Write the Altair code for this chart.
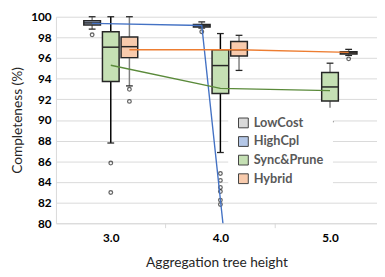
import altair as alt
import pandas as pd

# ---------------- data ----------------
series_names = ["LowCost", "HighCpl", "Sync&Prune", "Hybrid"]
tree_heights = [3.0, 4.0, 5.0]

box_series = ["HighCpl", "HighCpl", "Sync&Prune", "Sync&Prune", "Sync&Prune", "Hybrid", "Hybrid", "Hybrid"]
box_height = [3.0, 4.0, 3.0, 4.0, 5.0, 3.0, 4.0, 5.0]
whisker_low = [98.8, 98.9, 87.77, 86.85, 89.83, 93.3, 94.8, 96.25]
q1 = [99.2, 99.0, 93.73, 92.56, 91.83, 96.04, 96.19, 96.38]
median = [99.4, 99.12, 97.05, 95.27, 93.2, 97.1, 96.8, 96.5]
q3 = [99.6, 99.26, 98.55, 96.8, 94.6, 98.03, 97.6, 96.6]
whisker_high = [100.0, 99.5, 100.0, 98.37, 95.5, 100.0, 98.2, 96.84]

outlier_series = ["HighCpl", "HighCpl", "Sync&Prune", "Sync&Prune",
                  "Sync&Prune", "Sync&Prune", "Sync&Prune", "Sync&Prune", "Sync&Prune", "Sync&Prune",
                  "Sync&Prune", "Hybrid", "Hybrid", "Hybrid"]
outlier_height = [3.0, 4.0, 3.0, 3.0,
                  4.0, 4.0, 4.0, 4.0, 4.0, 4.0,
                  5.0, 3.0, 3.0, 5.0]
outlier_value = [98.25, 98.55, 85.83, 82.98,
                 84.82, 84.15, 83.47, 83.07, 82.24, 81.82,
                 83.62, 92.97, 91.8, 95.92]

mean_series = ["HighCpl"] * 3 + ["Sync&Prune"] * 3 + ["Hybrid"] * 3
mean_height = [3.0, 4.0, 5.0] * 3
mean_value = [99.35, 99.15, 0.0, 95.3, 93.06, 92.84, 96.8, 96.8, 96.55]

band_edges = [3.5, 4.5]

# ---------------- styling ----------------
fill_colors = ["#d9d9d9", "#b4c7e7", "#c5e0b4", "#f8cbad"]
line_series = ["HighCpl", "Sync&Prune", "Hybrid"]
line_colors = ["#4472c4", "#5a8a3a", "#ed7d31"]
FONT = "Lato"
BOX_HALF = 0.076
CAP_HALF = 0.031
PLOT_W = 328
PLOT_H = 211

offset_expr = ("datum.series=='HighCpl' ? -0.17 : datum.series=='Hybrid' ? 0.17 : "
               "datum.series=='LowCost' ? -0.34 : 0")

boxes = pd.DataFrame({
    "series": box_series, "height": box_height, "lo": whisker_low,
    "q1": q1, "med": median, "q3": q3, "hi": whisker_high,
})
outliers = pd.DataFrame({"series": outlier_series, "height": outlier_height, "value": outlier_value})
means = pd.DataFrame({"series": mean_series, "height": mean_height, "value": mean_value})
edges = pd.DataFrame({"edge": band_edges})

xscale = alt.Scale(domain=[2.5, 5.4286], nice=False, zero=False)
xaxis = alt.Axis(values=tree_heights, format=".1f", grid=False, ticks=False,
                 labelPadding=10, titlePadding=12, domainColor="#d9d9d9")
yscale = alt.Scale(domain=[80, 100], nice=False, zero=False)
yaxis = alt.Axis(values=list(range(80, 101, 2)), ticks=False, labelPadding=5,
                 titlePadding=6, gridColor="#d9d9d9", domainColor="#d9d9d9")
XT = "Aggregation tree height"
YT = "Completeness (%)"


def X(field):
    return alt.X(field, type="quantitative", scale=xscale, axis=xaxis, title=XT)


def Y(field):
    return alt.Y(field, type="quantitative", scale=yscale, axis=yaxis, title=YT)


base_box = alt.Chart(boxes).transform_calculate(
    xpos="datum.height + (" + offset_expr + ")"
).transform_calculate(
    x_lo="datum.xpos - " + str(BOX_HALF),
    x_hi="datum.xpos + " + str(BOX_HALF),
    c_lo="datum.xpos - " + str(CAP_HALF),
    c_hi="datum.xpos + " + str(CAP_HALF),
)

whisk_color = alt.condition("datum.series == 'Sync&Prune' && datum.height < 5",
                            alt.value("#000000"), alt.value("#7f7f7f"))

whisk_up = base_box.mark_rule(strokeWidth=1.5).encode(
    x=X("xpos"), y=Y("q3"), y2="hi", color=whisk_color)
whisk_dn = base_box.mark_rule(strokeWidth=1.5).encode(
    x=X("xpos"), y=Y("lo"), y2="q1", color=whisk_color)
cap_up = base_box.mark_rule(strokeWidth=1.3, color="#262626").encode(
    x=X("c_lo"), x2="c_hi", y=Y("hi"))
cap_dn = base_box.mark_rule(strokeWidth=1.3, color="#262626").encode(
    x=X("c_lo"), x2="c_hi", y=Y("lo"))

box = base_box.mark_rect(stroke="#262626", strokeWidth=1.5).encode(
    x=X("x_lo"), x2="x_hi", y=Y("q1"), y2="q3",
    fill=alt.Fill("series:N", scale=alt.Scale(domain=series_names, range=fill_colors),
                  legend=alt.Legend(title=None, orient="none", legendX=176, legendY=93,
                                    fillColor="white", padding=9, symbolType="square",
                                    symbolSize=100, symbolStrokeColor="#404040",
                                    symbolStrokeWidth=1, labelFont=FONT, labelFontSize=13,
                                    labelFontWeight="bold", labelColor="#595959",
                                    rowPadding=4, labelOffset=4)),
)
med = base_box.mark_rule(strokeWidth=1.5, color="#262626").encode(
    x=X("x_lo"), x2="x_hi", y=Y("med"))

out = alt.Chart(outliers).transform_calculate(
    xpos="datum.height + (" + offset_expr + ")"
).mark_point(filled=False, size=14, strokeWidth=1.3, color="#262626").encode(
    x=X("xpos"), y=Y("value"))

mean_line = alt.Chart(means).transform_calculate(
    xpos="datum.height + (" + offset_expr + ")"
).mark_line(strokeWidth=1.4, clip=True).encode(
    x=X("xpos"), y=Y("value"),
    color=alt.Color("series:N", scale=alt.Scale(domain=line_series, range=line_colors), legend=None),
    detail="series:N",
)

edge_ticks = alt.Chart(edges).mark_rule(color="#d9d9d9", strokeWidth=1).encode(
    x=X("edge"), y=alt.value(PLOT_H), y2=alt.value(PLOT_H + 5))

chart = alt.layer(
    edge_ticks, whisk_up, whisk_dn, cap_up, cap_dn, box, med, out, mean_line
).resolve_scale(color="independent").properties(
    width=PLOT_W, height=PLOT_H,
    autosize=alt.AutoSizeParams(type="none"),
    padding={"left": 49, "top": 6, "right": 0, "bottom": 52},
).configure_view(stroke=None).configure_axis(
    labelFont=FONT, labelFontSize=12, labelFontWeight="bold", labelColor="#000000",
    titleFont=FONT, titleFontSize=14, titleFontWeight="normal", titleColor="#262626",
)

chart.save("out.html", embed_options={"renderer": "svg", "actions": False})
